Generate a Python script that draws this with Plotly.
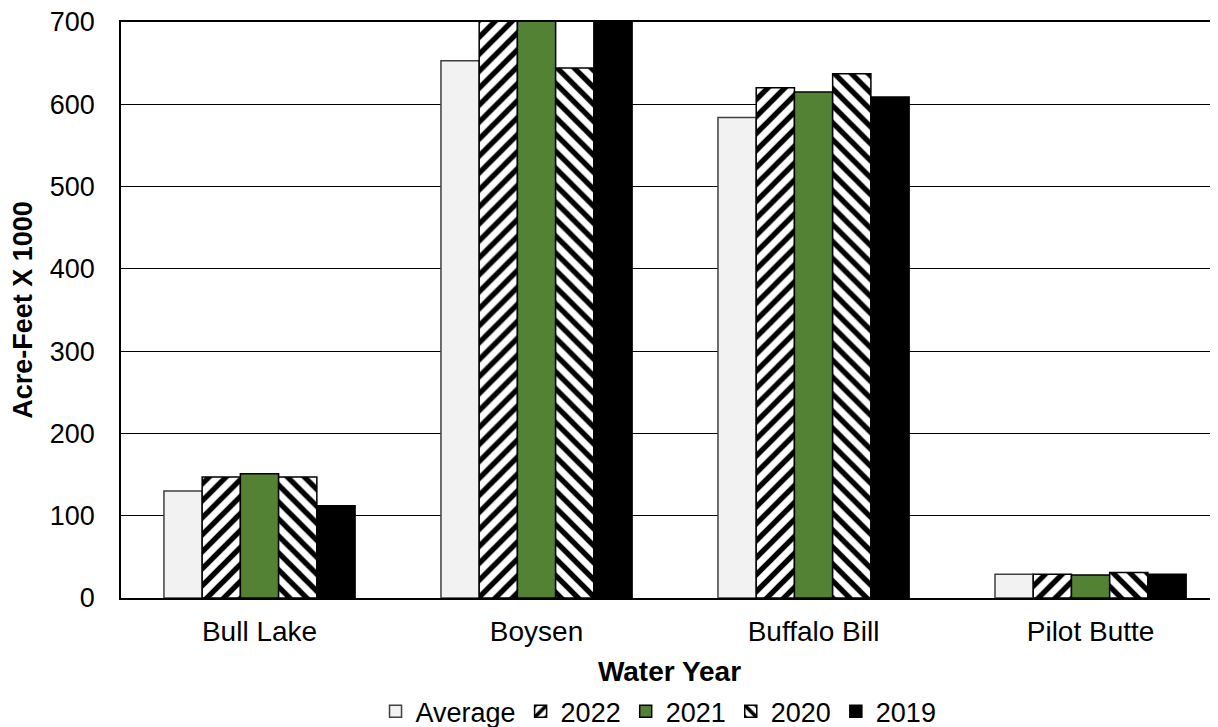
import plotly.graph_objects as go

reservoirs = ['Bull Lake', 'Boysen', 'Buffalo Bill', 'Pilot Butte']
series_names = ['Average', '2022', '2021', '2020', '2019']

average = [130, 653, 584, 29]
wy2022 = [147, 760, 620, 29]
wy2021 = [151, 750, 615, 28]
wy2020 = [147, 644, 637, 31]
wy2019 = [112, 740, 609, 29]

all_values = [average, wy2022, wy2021, wy2020, wy2019]

fills = ['#f2f2f2', 'white', '#548235', 'white', 'black']
patterns = ['', '/', '', '\\', '']
outlines = ['#404040', 'black', 'black', 'black', 'black']

fig = go.Figure()

for idx in range(len(series_names)):
    if patterns[idx]:
        pat = dict(shape=patterns[idx], fgcolor='black', bgcolor='white', fgopacity=1,
                   size=12, solidity=0.45, fillmode='overlay')
    else:
        pat = dict(shape='')
    fig.add_trace(go.Bar(
        x=reservoirs, y=all_values[idx], name=series_names[idx],
        marker=dict(color=fills[idx], pattern=pat,
                    line=dict(color=outlines[idx], width=1.5)),
    ))

# page body has an 8px margin, so the figure is a bit smaller than the window
fig.update_layout(
    width=1210, height=719,
    barmode='group', bargap=0.31, bargroupgap=0,
    plot_bgcolor='white', paper_bgcolor='white',
    font=dict(family='Liberation Sans, Arial, sans-serif', size=27, color='black'),
    margin=dict(l=113, r=0, t=14, b=129, autoexpand=False),
    xaxis=dict(
        range=[-0.5, 3.46], showline=True, linecolor='black', linewidth=1.5,
        mirror=True, ticks='', showgrid=False, automargin=False,
        tickfont=dict(size=28), ticklabelstandoff=8,
        title=dict(text='<b>Water Year</b>', standoff=15, font=dict(size=28)),
    ),
    yaxis=dict(
        range=[0, 700], dtick=100, showgrid=True, gridcolor='black', gridwidth=1.2,
        showline=True, linecolor='black', linewidth=1.5, ticks='',
        ticklabelstandoff=19, ticklabeloverflow='allow', zeroline=False, automargin=False,
        tickfont=dict(size=27),
        title=dict(text='<b>Acre-Feet X 1000</b>', standoff=12, font=dict(size=27)),
    ),
    legend=dict(orientation='h', x=0.49, xanchor='center', y=-0.155, yanchor='top',
                font=dict(size=27), itemwidth=30, tracegroupgap=0),
)

fig.write_html("out.html")
